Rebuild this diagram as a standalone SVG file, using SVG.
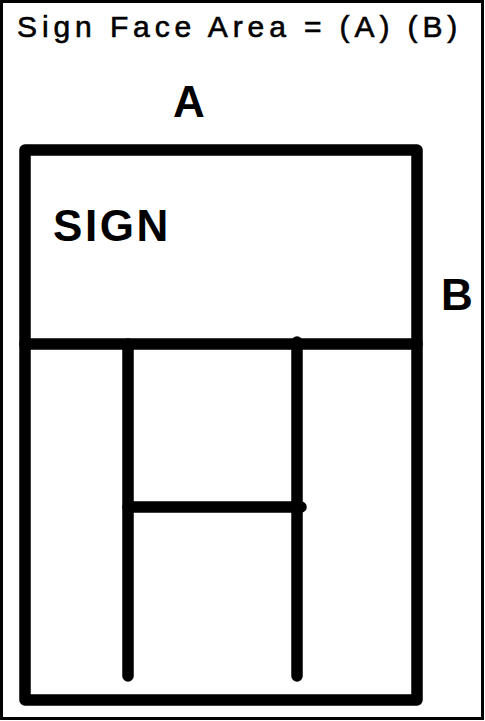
<svg xmlns="http://www.w3.org/2000/svg" width="485" height="721" viewBox="0 0 485 721">
<style>
.t{font-family:"Liberation Sans",Arial,sans-serif;fill:#000}
.title{font-size:30px;letter-spacing:4.9px;stroke:#000;stroke-width:0.6}
.lbl{font-size:44px;font-weight:bold}
.ln{stroke:#000;stroke-width:11.5;stroke-linecap:round;fill:none}
</style>
<rect width="485" height="721" fill="#fff"/>
<rect x="1.5" y="1.5" width="481" height="717" fill="none" stroke="#000" stroke-width="3"/>
<g id="title"><text class="t title" x="17" y="37">Sign Face Area = (A) (B)</text></g>
<g id="labelA"><text class="t lbl" x="189" y="117" text-anchor="middle">A</text></g>
<g id="labelB"><text class="t lbl" x="441" y="310">B</text></g>
<g id="sign">
<rect x="25" y="150" width="392" height="550" fill="none" stroke="#000" stroke-width="11.5" stroke-linejoin="round"/>
<text class="t lbl" x="53" y="241" style="letter-spacing:2.6px">SIGN</text>
</g>
<g id="connectors">
<line class="ln" x1="25" y1="344" x2="417" y2="344"/>
<line class="ln" x1="128" y1="344" x2="128" y2="676"/>
<line class="ln" x1="297" y1="342" x2="297" y2="676"/>
<line class="ln" x1="128" y1="507" x2="301" y2="507"/>
</g>
</svg>
